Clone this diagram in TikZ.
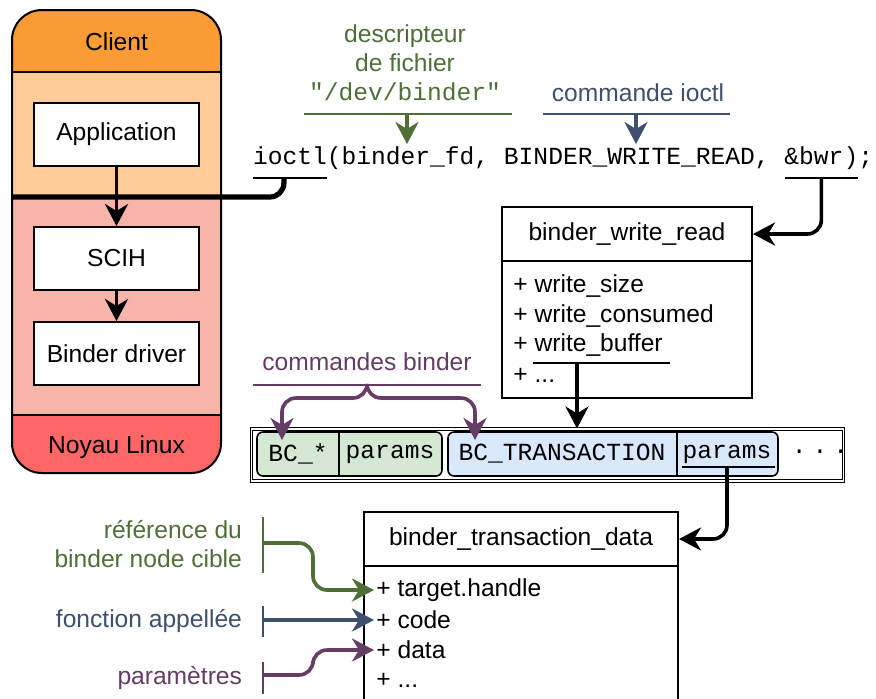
\documentclass[tikz,border=0pt]{standalone}
\usepackage{fontspec}
\setmainfont{Liberation Sans}
\setmonofont{Liberation Mono}
\definecolor{clientorange}{RGB}{250, 155, 51}
\definecolor{userorange}{RGB}{255, 204, 153}
\definecolor{kernelpink}{RGB}{247, 180, 169}
\definecolor{linuxred}{RGB}{255, 102, 102}
\definecolor{fdgreen}{RGB}{80, 110, 56}
\definecolor{cmdblue}{RGB}{62, 80, 110}
\definecolor{bcpurple}{RGB}{100, 60, 102}
\definecolor{bcgreen}{RGB}{213, 232, 212}
\definecolor{bcblue}{RGB}{218, 232, 252}
\usepackage{tikz}
\usetikzlibrary{arrows.meta, positioning, calc}

\begin{document}
\begin{tikzpicture}[x=0.5pt, y=-0.5pt, font=\fontsize{12.3}{14.5}\selectfont,
  layerbox/.style={draw, line width=1pt, fill=white, minimum width=82.5pt, minimum height=31.5pt},
  structhead/.style={draw, line width=1pt, fill=white, minimum height=27pt, text depth=0pt, text height=6pt},
  structbody/.style={draw, line width=1pt, fill=white},
  field/.style={anchor=west, inner sep=1pt},
  code/.style={font=\fontsize{12.3}{14.5}\selectfont\ttfamily, inner sep=0pt, outer sep=0pt, text height=10pt, text depth=3pt, anchor=base west},
  cell/.style={font=\fontsize{12.3}{14.5}\selectfont\ttfamily, inner sep=1pt},
  cmdgroup/.style={draw, line width=0.8pt, rounded corners=3pt, minimum height=22pt},
  flow/.style={line width=1.8pt, -{Stealth[length=11pt, width=11.5pt, inset=3.5pt]}, rounded corners=7pt},
  underl/.style={line width=0.8pt},
  tick/.style={line width=0.8pt}]
  \useasboundingbox (0,0) rectangle (876,698);

  % Client column
  \begin{scope}
    \clip[rounded corners=15pt] (12,10) rectangle (221,473);
    \fill[clientorange] (12,10) rectangle (221,72);
    \fill[userorange] (12,72) rectangle (221,197);
    \fill[kernelpink] (12,197) rectangle (221,415);
    \fill[linuxred] (12,415) rectangle (221,473);
  \end{scope}
  \draw[line width=1pt, rounded corners=15pt] (12,10) rectangle (221,473);
  \draw[line width=1pt] (12,72) -- (221,72) (12,415) -- (221,415);
  \node (client) at (116.5,42) {Client};
  \node (linux) at (116.5,447) {Noyau Linux};

  \node[layerbox] (app) at (116.5,134.5) {Application};
  \node[layerbox] (scih) at (116.5,258.5) {SCIH};
  \node[layerbox] (driver) at (116.5,353.5) {Binder driver};
  \draw[flow] (app) -- (scih);
  \draw[flow] (scih) -- (driver);

  % ioctl call
  \node[code] (fn) at (253,164) {ioctl};
  \node[code] (fd) at (fn.base east) {(binder\_fd,};
  \node[code] (cmd) at (fd.base east) {\ BINDER\_WRITE\_READ,};
  \node[code] (bwr) at (cmd.base east) {\ \&bwr)};
  \node[code] (semi) at (bwr.base east) {;};

  \coordinate (fnL) at ($(fn.base west)+(0,-7pt)$);
  \coordinate (fnR) at ($(fn.base east)+(0,-7pt)$);
  \coordinate (fnU) at ($(fn.base)+(-3pt,-7pt)$);
  \coordinate (kernelW) at (12,197);
  \draw[underl] (fnL) -- (fnR);
  \draw[line width=2.6pt, rounded corners=7pt] (fnU) |- (kernelW);

  \coordinate (bwrL) at ($(bwr.base west)+(7.43pt,-7pt)$);
  \coordinate (bwrR) at ($(bwr.base east)+(0,-7pt)$);
  \coordinate (bwrU) at ($(bwr.base)+(3.7pt,-7pt)$);
  \draw[underl] (bwrL) -- (bwrR);

  % file descriptor / ioctl command labels
  \node[text=fdgreen, align=center] (desc) at (405,63) {descripteur\\de fichier\\\texttt{"/dev/binder"}};
  \coordinate (descL) at (304,114);
  \coordinate (descR) at (512,114);
  \coordinate (descU) at (407,114);
  \draw[underl, fdgreen] (descL) -- (descR);
  \draw[flow, fdgreen] (descU) -- (descU |- fd.north);

  \node[text=cmdblue] (cmdlabel) at (638,93) {commande ioctl};
  \coordinate (cmdL) at (543,114);
  \coordinate (cmdR) at (730,114);
  \coordinate (cmdU) at (636,114);
  \draw[underl, cmdblue] (cmdL) -- (cmdR);
  \draw[flow, cmdblue] (cmdU) -- (cmdU |- cmd.north);

  % binder_write_read
  \node[structhead, minimum width=125pt] (bwrhead) at (627,234) {binder\_write\_read};
  \node[structbody, minimum width=125pt, minimum height=68.5pt, below=-1pt of bwrhead] (bwrbody) {};
  \node[field] (wsize) at (511,286) {+ write\_size};
  \node[field] (wcons) at (511,316) {+ write\_consumed};
  \node[field] (wbuf) at (511,345) {+ write\_buffer};
  \node[field] (wmore) at (511,375) {+ ...};
  \draw[flow] (bwrU) |- (bwrhead.east);

  \coordinate (wbufL) at (533,363);
  \coordinate (wbufR) at (670,363);
  \coordinate (wbufU) at (577,363);
  \draw[underl] (wbufL) -- (wbufR);

  % command buffer
  \node[draw, double, double distance=0.8pt, line width=0.5pt, minimum width=296pt, minimum height=26pt] (strip) at (547.5,455) {};
  \node[cmdgroup, fill=bcgreen, minimum width=92.5pt] (bcany) at (349.5,454) {};
  \node[cmdgroup, fill=bcblue, minimum width=165pt] (bctr) at (613,454) {};
  \draw[line width=0.8pt] (339,432) -- (339,476) (677,432) -- (677,476);
  \node[cell] (bcstar) at (298,454) {BC\_*};
  \node[cell] (bcpar) at (390,454) {params};
  \node[cell] (bctrans) at (562,454) {BC\_TRANSACTION};
  \node[cell] (trpar) at (727,454) {params};
  \node[cell] (more) at (820,452) {.\kern3pt.\kern3pt.};
  \draw[flow] (wbufU) -- (wbufU |- strip.north);

  \node[text=bcpurple] (bclabel) at (367,362) {commandes binder};
  \coordinate (bcbarL) at (253,385);
  \coordinate (bcbarR) at (481,385);
  \coordinate (bcbar) at (367,385);
  \coordinate (bcL) at (282,440);
  \coordinate (bcR) at (475,440);
  \draw[underl, bcpurple] (bcbarL) -- (bcbarR);
  \draw[flow, bcpurple] (bcbar) |- (282,398) -- (bcL);
  \draw[flow, bcpurple] (bcbar) |- (475,398) -- (bcR);

  % binder_transaction_data
  \node[structhead, minimum width=157pt] (tdhead) at (521,539) {binder\_transaction\_data};
  \node[structbody, minimum width=157pt, minimum height=75pt, below=-1pt of tdhead] (tdbody) {};
  \node[field] (target) at (374,590) {+ target.handle};
  \node[field] (code) at (374,620) {+ code};
  \node[field] (data) at (374,650) {+ data};
  \node[field] (tdmore) at (374,680) {+ ...};

  \coordinate (trparL) at (682,467);
  \coordinate (trparR) at (775,467);
  \coordinate (trparU) at (727,467);
  \draw[underl] (trparL) -- (trparR);
  \draw[flow] (trparU) |- (tdhead.east);

  % field labels
  \node[text=fdgreen, align=right, anchor=east] (reflabel) at (249,544) {référence du\\binder node cible};
  \node[text=cmdblue, anchor=east] (funclabel) at (249,621) {fonction appellée};
  \node[text=bcpurple, anchor=east] (paramlabel) at (249,678) {paramètres};

  \draw[tick, fdgreen] (263,517) -- (263,573);
  \draw[tick, cmdblue] (263,606) -- (263,637);
  \draw[tick, bcpurple] (263,662) -- (263,694);
  \coordinate (refU) at (263,543);
  \coordinate (funcU) at (263,620);
  \coordinate (paramU) at (263,675);
  \draw[flow, fdgreen] (refU) -| (313,590) -- (target.west);
  \draw[flow, cmdblue] (funcU) -- (code.west);
  \draw[flow, bcpurple] (paramU) -| (313,650) -- (data.west);
\end{tikzpicture}
\end{document}
